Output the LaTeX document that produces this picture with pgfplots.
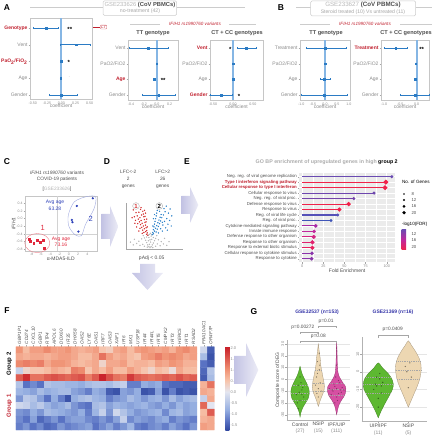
\documentclass[border=0pt]{standalone}
\usepackage{pgfplots}
\pgfplotsset{compat=1.18}
\usepackage{fontspec}
\setmainfont{Liberation Sans}
\newcommand\fs[1]{\fontsize{#1}{#1}\selectfont}
\definecolor{cred}{HTML}{C0202E}
\definecolor{tgray}{HTML}{8A8A8A}
\definecolor{dgray}{HTML}{4D4D4D}
\definecolor{fblue}{HTML}{2B7BC4}
\definecolor{zblue}{HTML}{86B6E4}
\definecolor{vred}{HTML}{D43030}
\definecolor{vblue}{HTML}{2A80C8}
\definecolor{vgray}{HTML}{B8B8B8}
\definecolor{cblue}{HTML}{2B3FB8}
\definecolor{cpink}{HTML}{E0283C}
\definecolor{gtitle}{HTML}{3535A8}
\definecolor{vgreen}{HTML}{5DB831}
\definecolor{vtan}{HTML}{EDD7B2}
\definecolor{vmag}{HTML}{D64FA2}
\definecolor{arrL}{HTML}{C3C3E4}
\definecolor{arrR}{HTML}{ECECF6}
\definecolor{ebg}{HTML}{EBEBEB}
\definecolor{lp1}{HTML}{6A4BB2}
\definecolor{lp4}{HTML}{6E47AE}
\definecolor{lp5}{HTML}{7544AA}
\definecolor{lp8}{HTML}{5550B8}
\definecolor{lp9}{HTML}{3F55B8}
\definecolor{lpR}{HTML}{F0224A}
\definecolor{lp10}{HTML}{A82AA6}
\definecolor{lp11}{HTML}{C0289C}
\definecolor{lp12}{HTML}{D42484}
\definecolor{lp13}{HTML}{E0226E}
\definecolor{lp14}{HTML}{E82260}
\definecolor{lp15}{HTML}{8A34AA}
\tikzset{star/.style={font=\fs{6}\bfseries, yshift=-1.2pt, inner sep=0pt}}
\pgfplotsset{
  /pgf/number format/assume math mode=true,
  colormap={hm}{rgb255(0cm)=(49,72,160); rgb255(4cm)=(90,115,195); rgb255(9cm)=(150,175,225); rgb255(17cm)=(228,230,240); rgb255(22cm)=(247,195,170); rgb255(27cm)=(240,145,115); rgb255(37cm)=(200,30,40)},
  forest/.style={
    scale only axis, anchor=north west, clip=false,
    axis line style={draw=gray!45, line width=0.4pt},
    tick style={draw=gray!70, line width=0.3pt},
    major tick length=1.3pt, tick align=outside,
    xtick pos=left, ytick pos=left,
    xticklabel style={font=\fs{3.6}, text=tgray, inner sep=1pt},
    yticklabel style={font=\fs{5}, text=tgray, inner sep=1pt},
    xlabel={coefficient}, xlabel style={font=\fs{5}, text=tgray, inner sep=0pt, yshift=1pt},
  },
  zero/.style={zblue, line width=2pt},
  ebar/.style={fblue, line width=0.6pt, mark=|, mark size=1pt, mark options={fblue, line width=0.5pt}},
  pts/.style={only marks, mark=square*, mark size=0.9pt, fblue},
  lol/.style={line width=1.1pt, mark=*, mark indices={2}},
  vio/.style={scale only axis, anchor=north west, clip=false,
    axis x line=bottom, axis y line=left, axis line style={draw=gray!60, line width=0.4pt, -},
    ymajorgrids, major grid style={gray!20, line width=0.4pt},
    tick style={draw=gray!70, line width=0.3pt}, major tick length=1.3pt, tick align=outside,
    xticklabel style={align=center, font=\fontsize{5}{6.5}\selectfont, text=dgray, inner sep=1pt},
    yticklabel style={rotate=90, anchor=south, font=\fs{4}, text=tgray, inner sep=1pt}},
}
\begin{document}
\begin{tikzpicture}
\useasboundingbox (0pt,0pt) rectangle (437pt,440pt);

% ---------------- A1
\begin{axis}[forest, at={(30pt,422pt)}, width=62pt, height=81pt,
 xmin=-0.55, xmax=0.54, ymin=0.76, ymax=5.6,
 xtick={-0.5,-0.25,0,0.25,0.5}, xticklabels={-0.50,-0.25,0.00,0.25,0.50},
 ytick={1,2,3,4,5},
 yticklabels={Gender,Age,{\textcolor{cred}{\bfseries PaO\textsubscript{2}/FiO\textsubscript{2}}},Vent,{\textcolor{cred}{\bfseries Genotype}}}]
\addplot[zero] coordinates {(0,0.76) (0,5.6)};
\addplot[ebar] coordinates {(-0.495,5) (-0.05,5)};
\addplot[ebar] coordinates {(-0.01,4) (0.51,4)};
\addplot[ebar] coordinates {(-0.015,3) (0.015,3)};
\addplot[ebar] coordinates {(-0.025,2) (0.005,2)};
\addplot[ebar] coordinates {(-0.22,1) (0.28,1)};
\addplot[pts] coordinates {(-0.264,5) (0.26,4) (0,3) (-0.01,2) (0,1)};
\node[star] at (axis cs:0.15,5) {**};
\node[star] at (axis cs:0.13,3) {*};
\node[font=\fs{5}, text=gray!60] at (axis cs:0.14,2.08) {.};
\end{axis}

% ---------------- A2
\begin{axis}[forest, at={(128pt,400pt)}, width=50pt, height=60pt,
 xmin=-0.447, xmax=0.33, ymin=0.68, ymax=4.51,
 xtick={-0.4,-0.2,0,0.2}, xticklabels={-0.4,-0.2,0.0,0.2},
 ytick={1,2,3,4},
 yticklabels={Gender,{\textcolor{cred}{\bfseries Age}},PaO2/FiO2,Vent}]
\addplot[zero] coordinates {(0,0.68) (0,4.51)};
\addplot[ebar] coordinates {(-0.42,4) (0.18,4)};
\addplot[ebar] coordinates {(-0.01,3) (0.01,3)};
\addplot[ebar] coordinates {(-0.055,2) (-0.025,2)};
\addplot[ebar] coordinates {(-0.22,1) (0.29,1)};
\addplot[pts] coordinates {(-0.13,4) (0,3) (-0.04,2) (0.03,1)};
\node[star] at (axis cs:0.1,2) {**};
\end{axis}

% ---------------- A3
\begin{axis}[forest, at={(210pt,400pt)}, width=53pt, height=60pt,
 xmin=-0.575, xmax=0.75, ymin=0.68, ymax=4.51,
 xtick={-0.5,0,0.5}, xticklabels={-0.50,0.00,0.50},
 ytick={1,2,3,4},
 yticklabels={{\textcolor{cred}{\bfseries Gender}},Age,PaO2/FiO2,{\textcolor{cred}{\bfseries Vent}}}]
\addplot[zero] coordinates {(0,0.68) (0,4.51)};
\addplot[ebar] coordinates {(0.11,4) (0.57,4)};
\addplot[ebar] coordinates {(-0.01,3) (0.01,3)};
\addplot[ebar] coordinates {(-0.01,2) (0.01,2)};
\addplot[ebar] coordinates {(-0.575,1) (-0.01,1)};
\addplot[pts] coordinates {(0.34,4) (0,3) (0,2) (-0.3,1)};
\node[star] at (axis cs:-0.07,4) {*};
\node[star] at (axis cs:0.15,1) {*};
\end{axis}

% ---------------- B1
\begin{axis}[forest, at={(300pt,400pt)}, width=50pt, height=60pt,
 xmin=-1.05, xmax=1.05, ymin=0.68, ymax=4.51,
 xtick={-1,-0.5,0,0.5,1}, xticklabels={-1.0,-0.5,0.0,0.5,1.0},
 ytick={1,2,3,4},
 yticklabels={Gender,Age,PaO2/FiO2,Treatment}]
\addplot[zero] coordinates {(0,0.68) (0,4.51)};
\addplot[ebar] coordinates {(-0.8,4) (0.9,4)};
\addplot[ebar] coordinates {(-0.02,3) (0.02,3)};
\addplot[ebar] coordinates {(-0.2,2) (0.2,2)};
\addplot[ebar] coordinates {(-1.0,1) (0.95,1)};
\addplot[pts] coordinates {(0,4) (0,3) (-0.02,2) (-0.03,1)};
\end{axis}

% ---------------- B2
\begin{axis}[forest, at={(381pt,400pt)}, width=48.3pt, height=60pt,
 xmin=-1.09, xmax=0.385, ymin=0.68, ymax=4.51,
 xtick={-1,-0.5,0}, xticklabels={-1.0,-0.5,0.0},
 ytick={1,2,3,4},
 yticklabels={Gender,Age,PaO2/FiO2,{\textcolor{cred}{\bfseries Treatment}}}]
\addplot[zero] coordinates {(0,0.68) (0,4.51)};
\addplot[ebar] coordinates {(-1.0,4) (-0.3,4)};
\addplot[ebar] coordinates {(-0.05,3) (-0.01,3)};
\addplot[ebar] coordinates {(-0.07,2) (-0.03,2)};
\addplot[ebar] coordinates {(-0.51,1) (0.39,1)};
\addplot[pts] coordinates {(-0.64,4) (-0.03,3) (-0.05,2) (-0.05,1)};
\node[star] at (axis cs:0.15,4) {**};
\end{axis}

% ---------------- C
\begin{axis}[scale only axis, anchor=north west, at={(25pt,244pt)}, width=71.7pt, height=54.7pt,
 xmin=-9.45, xmax=6, ymin=-0.84, ymax=0.59, clip=false,
 axis line style={draw=gray!45, line width=0.4pt}, tick style={draw=gray!70, line width=0.3pt},
 major tick length=1.3pt, tick align=outside, xtick pos=left, ytick pos=left,
 xtick={-8,-6,-4,-2,0,2,4}, ytick={-0.8,-0.6,-0.4,-0.2,0,0.2,0.4},
 yticklabel style={/pgf/number format/.cd, fixed, fixed zerofill, precision=1},
 ticklabel style={font=\fs{3.5}, text=tgray, inner sep=1pt},
 xlabel={α-MDA5-ILD}, ylabel={\itshape IFIH1},
 label style={font=\fs{5}, text=dgray, inner sep=0pt}]
\addplot[gray!35, line width=0.4pt] coordinates {(-2.5,-0.84) (-2.5,0.59)};
\addplot[gray!35, line width=0.4pt] coordinates {(-9.45,-0.4) (6,-0.4)};
\addplot[only marks, mark=square*, mark size=0.8pt, cpink] coordinates {(-8.5,-0.54) (-8.3,-0.59) (-7.6,-0.64) (-6.8,-0.57) (-5.5,-0.56) (-5.3,-0.77) (-6.2,-0.62)};
\addplot[only marks, mark=*, mark size=0.9pt, cblue] coordinates {(5.17,0.53) (1.72,0.33) (0.64,-0.035) (0.77,-0.095) (2.06,-0.34)};
\draw[cpink!60, line width=0.4pt] (axis cs:-6.8,-0.64) ellipse [x radius=2.7, y radius=0.25];
\draw[cblue!45, line width=0.4pt] plot[smooth cycle] coordinates {(axis cs:4.0,0.58) (axis cs:5.8,0.56) (axis cs:5.4,0.25) (axis cs:3.6,-0.15) (axis cs:2.7,-0.45) (axis cs:1.3,-0.42) (axis cs:0.0,-0.2) (axis cs:-0.1,0.1) (axis cs:1.2,0.44)};
\end{axis}

% ---------------- D volcano
\begin{axis}[scale only axis, anchor=north west, at={(126pt,237pt)}, width=57pt, height=46pt,
 xmin=-4.3, xmax=5.9, ymin=0, ymax=10, axis x line=bottom, axis y line=left,
 axis line style={draw=gray!70, line width=0.6pt, -}, xtick=\empty, ytick=\empty, clip=false]
\addplot[only marks, mark=*, mark size=0.45pt, vgray] coordinates {(0,0.3) (-0.2,0.5) (0.2,0.5) (-0.4,0.9) (0.4,0.9) (-0.6,1.4) (0.6,1.3) (-0.8,1.9) (0.8,1.8) (-1.0,2.4) (1.0,2.3) (-1.2,2.9) (1.2,2.9) (-0.1,1.0) (0.1,1.5) (-0.3,1.8) (0.3,2.1) (-0.2,2.5) (0.2,2.8) (-1.5,2.2) (1.5,2.0) (-2.0,1.7) (2.0,1.6) (-2.4,1.2) (2.4,1.1) (-1.8,0.8) (1.8,0.7) (-3.0,0.9) (3.0,0.8) (-0.5,0.4) (0.5,0.3) (-1.3,1.0) (1.3,1.1) (0,2.0) (-0.6,2.6) (0.6,2.5) (-2.8,2.1) (2.6,2.3) (-3.5,1.5) (3.4,1.6) (-1,0.6) (1,0.6) (-0.1,3.2) (0.1,3.4) (-0.3,3.0) (0.3,3.1)};
\addplot[only marks, mark=*, mark size=0.45pt, vred] coordinates {(-0.4,3.0) (-0.5,3.5) (-0.6,4.0) (-0.7,4.6) (-0.8,5.2) (-0.9,5.8) (-1.0,6.4) (-1.1,7.0) (-1.2,7.6) (-1.3,8.2) (-0.6,3.2) (-0.8,3.8) (-1.0,4.4) (-1.2,5.0) (-1.4,5.6) (-1.6,6.2) (-1.8,6.8) (-1.5,7.4) (-2.0,8.0) (-1.7,8.6) (-1.1,3.6) (-1.3,4.1) (-1.5,4.7) (-1.7,5.3) (-1.9,5.9) (-2.1,6.5) (-2.3,7.2) (-2.5,7.9) (-1.4,3.4) (-1.8,4.5) (-2.2,5.5) (-2.6,6.2) (-2.8,7.0) (-3.0,8.5) (-0.7,5.9) (-0.9,7.1) (-1.0,8.4) (-2.4,4.8) (-3.2,6.8) (-2.0,3.9) (-0.5,4.8) (-0.6,6.5) (-0.8,7.8) (-1.6,9.0) (-2.7,5.6)};
\addplot[only marks, mark=*, mark size=0.45pt, vblue] coordinates {(0.4,3.1) (0.5,3.6) (0.6,4.2) (0.7,4.8) (0.8,5.4) (0.9,6.0) (1.0,6.6) (1.1,7.2) (1.2,7.8) (1.3,8.4) (0.6,3.3) (0.8,3.9) (1.0,4.5) (1.2,5.1) (1.4,5.7) (1.6,6.3) (1.8,6.9) (2.0,7.5) (1.4,9.0) (1.1,3.7) (1.3,4.3) (1.5,4.9) (1.7,5.5) (1.9,6.1) (2.1,6.8) (2.4,7.4) (2.7,8.1) (1.5,3.5) (1.9,4.4) (2.3,5.2) (2.6,6.0) (3.0,6.6) (3.3,7.8) (3.6,8.7) (2.2,3.9) (2.8,4.6) (3.2,5.4) (3.5,6.2) (3.8,5.0) (3.1,4.1) (0.5,5.0) (0.6,6.6) (0.8,7.5) (2.5,8.8) (3.9,7.2) (2.9,9.3) (1.7,8.2) (2.2,5.8)};
\end{axis}

% ---------------- E lollipop
\begin{axis}[scale only axis, anchor=north west, at={(299.3pt,267pt)}, width=95.7pt, height=89.3pt,
 xmin=-3.5, xmax=109.8, ymin=0.32, ymax=16.65, y dir=reverse, clip=false,
 axis background/.style={fill=ebg}, axis line style={draw=none},
 xtick={0,25,50,75,100}, minor xtick={12.5,37.5,62.5,87.5},
 ytick={1,2,3,4,5,6,7,8,9,10,11,12,13,14,15,16},
 yticklabels={Neg. reg. of viral genome replication,
  {\textcolor{cred}{\bfseries Type I interferon signaling pathway}},
  {\textcolor{cred}{\bfseries Cellular response to type I interferon}},
  Cellular response to virus, Neg. reg. of viral proc., Defense response to virus,
  Response to virus, Reg. of viral life cycle, Reg. of viral proc.,
  Cytokine-mediated signaling pathway, Innate immune response,
  Defense response to other organism, Response to other organism,
  Response to external biotic stimulus, Cellular response to cytokine stimulus,
  Response to cytokine},
 grid=both, major grid style={white, line width=0.55pt}, minor grid style={white, line width=0.25pt},
 tick style={draw=gray!70, line width=0.3pt}, major tick length=1.3pt, minor tick length=0pt, tick align=outside,
 xtick pos=left, ytick pos=left,
 xticklabel style={font=\fs{3.8}, text=tgray, inner sep=1pt},
 yticklabel style={font=\fs{4.3}, text=dgray, inner sep=1pt},
 xlabel={Fold Enrichment}, xlabel style={font=\fs{5}, text=dgray, inner sep=0pt}]
\addplot[lol, lp1, mark size=0.9pt] coordinates {(0,1) (106,1)};
\addplot[lol, lpR, mark size=1.8pt] coordinates {(0,2) (99,2)};
\addplot[lol, lpR, mark size=1.8pt] coordinates {(0,3) (98,3)};
\addplot[lol, lp4, mark size=0.9pt] coordinates {(0,4) (85,4)};
\addplot[lol, lp5, mark size=0.9pt] coordinates {(0,5) (61,5)};
\addplot[lol, lpR, mark size=1.5pt] coordinates {(0,6) (55,6)};
\addplot[lol, lpR, mark size=1.5pt] coordinates {(0,7) (44,7)};
\addplot[lol, lp8, mark size=0.9pt] coordinates {(0,8) (42,8)};
\addplot[lol, lp9, mark size=0.9pt] coordinates {(0,9) (34,9)};
\addplot[lol, lp10, mark size=1.2pt] coordinates {(0,10) (16,10)};
\addplot[lol, lp11, mark size=1.2pt] coordinates {(0,11) (14,11)};
\addplot[lol, lp12, mark size=1.5pt] coordinates {(0,12) (13.5,12)};
\addplot[lol, lp13, mark size=1.5pt] coordinates {(0,13) (12,13)};
\addplot[lol, lp14, mark size=1.5pt] coordinates {(0,14) (12,14)};
\addplot[lol, lp15, mark size=1.2pt] coordinates {(0,15) (11.5,15)};
\addplot[lol, lp15, mark size=1.2pt] coordinates {(0,16) (11,16)};
\end{axis}

% ---------------- F heatmap
\begin{axis}[scale only axis, anchor=north west, at={(16pt,93.3pt)}, width=198.3pt, height=83.3pt,
 xmin=-0.5, xmax=28, ymin=-0.5, ymax=11.5, y dir=reverse,
 axis line style={draw=none}, ytick=\empty,
 xtick={0,1,2,3,4,5,6,7,8,9,10,11,12,13,14,15,16,17,18,19,20,21,22,23,24,25,26.5,27.5},
 xticklabels={GBP1P1,CD274,CXCL10,GBP1,RTP4,APOL6,DDX60,IFI35,DHX58,OAS2,LY6E,OAS1,IRF7,OAS3,XAF1,IFI6,MX1,USP18,IFI44,IFI44L,IFIT5,CMPK2,IFIT3,HERC5,IFIT1,RSAD2,FRA10AC1,OR4F7P},
 xtick pos=right, xticklabel pos=right, tick align=outside, major tick length=1.5pt,
 tick style={draw=gray!70, line width=0.3pt},
 xticklabel style={rotate=90, anchor=west, font=\fs{4.6}\itshape, text=dgray, inner sep=0.8pt},
 colormap name=hm, point meta min=-1.7, point meta max=2.05,
 colorbar, colorbar style={at={(parent axis.north east)}, anchor=north west, xshift=2.5pt,
   width=4pt, height=83.3pt, scale only axis,
   ytick={-1.5,-1,-0.5,0,0.5,1,1.5,2},
   yticklabel style={font=\fs{4}, text=tgray, inner sep=1pt, /pgf/number format/.cd, fixed, fixed zerofill, precision=1},
   axis line style={draw=none}, major tick length=0pt}]
\addplot[matrix plot*, mesh/cols=26, point meta=explicit] coordinates {
(0,0)[1.0] (1,0)[0.6] (2,0)[0.9] (3,0)[0.9] (4,0)[1.1] (5,0)[0.9] (6,0)[0.9] (7,0)[1.0] (8,0)[0.8] (9,0)[0.7] (10,0)[0.8] (11,0)[0.9] (12,0)[0.5] (13,0)[0.4] (14,0)[0.8] (15,0)[0.9] (16,0)[0.6] (17,0)[0.9] (18,0)[1.0] (19,0)[0.9] (20,0)[0.8] (21,0)[0.9] (22,0)[0.7] (23,0)[1.0] (24,0)[1.1] (25,0)[0.9]
(0,1)[0.8] (1,1)[0.7] (2,1)[0.8] (3,1)[0.8] (4,1)[0.7] (5,1)[0.8] (6,1)[0.9] (7,1)[0.9] (8,1)[0.8] (9,1)[0.6] (10,1)[0.6] (11,1)[0.8] (12,1)[1.3] (13,1)[0.9] (14,1)[0.7] (15,1)[0.8] (16,1)[0.6] (17,1)[0.5] (18,1)[0.9] (19,1)[1.0] (20,1)[1.2] (21,1)[1.0] (22,1)[1.1] (23,1)[1.0] (24,1)[0.8] (25,1)[0.9]
(0,2)[1.1] (1,2)[1.2] (2,2)[1.1] (3,2)[1.2] (4,2)[0.8] (5,2)[1.0] (6,2)[1.0] (7,2)[0.9] (8,2)[0.7] (9,2)[0.6] (10,2)[0.7] (11,2)[0.8] (12,2)[0.3] (13,2)[0.8] (14,2)[0.8] (15,2)[0.9] (16,2)[0.6] (17,2)[0.7] (18,2)[0.7] (19,2)[0.6] (20,2)[0.9] (21,2)[0.8] (22,2)[1.0] (23,2)[0.9] (24,2)[0.7] (25,2)[0.7]
(0,3)[-0.3] (1,3)[0.3] (2,3)[0.5] (3,3)[0.5] (4,3)[0.6] (5,3)[0.8] (6,3)[0.7] (7,3)[0.6] (8,3)[1.2] (9,3)[1.1] (10,3)[0.5] (11,3)[0.8] (12,3)[0.6] (13,3)[0.9] (14,3)[0.6] (15,3)[0.6] (16,3)[0.9] (17,3)[0.7] (18,3)[0.5] (19,3)[0.3] (20,3)[0.6] (21,3)[0.5] (22,3)[0.2] (23,3)[0.8] (24,3)[0.6] (25,3)[0.6]
(0,4)[1.5] (1,4)[1.9] (2,4)[1.3] (3,4)[1.3] (4,4)[1.5] (5,4)[1.6] (6,4)[1.5] (7,4)[1.4] (8,4)[1.5] (9,4)[1.6] (10,4)[1.2] (11,4)[1.5] (12,4)[2.0] (13,4)[1.6] (14,4)[1.3] (15,4)[1.2] (16,4)[1.8] (17,4)[1.5] (18,4)[1.4] (19,4)[1.3] (20,4)[1.4] (21,4)[1.5] (22,4)[1.4] (23,4)[1.6] (24,4)[1.4] (25,4)[1.5]
(0,5)[-0.5] (1,5)[-1.3] (2,5)[-1.1] (3,5)[-1.3] (4,5)[-0.5] (5,5)[-0.6] (6,5)[-0.6] (7,5)[-0.7] (8,5)[-0.7] (9,5)[-0.8] (10,5)[-0.6] (11,5)[-0.5] (12,5)[-0.5] (13,5)[-0.6] (14,5)[-0.4] (15,5)[-0.3] (16,5)[-1.2] (17,5)[-1.2] (18,5)[-0.8] (19,5)[-0.9] (20,5)[-0.8] (21,5)[-1.3] (22,5)[-1.4] (23,5)[-1.4] (24,5)[-1.5] (25,5)[-1.5]
(0,6)[-0.7] (1,6)[-0.8] (2,6)[-0.9] (3,6)[-0.6] (4,6)[-0.8] (5,6)[-0.7] (6,6)[-0.6] (7,6)[-0.6] (8,6)[-0.9] (9,6)[-1.0] (10,6)[-1.2] (11,6)[-0.8] (12,6)[-0.9] (13,6)[-1.5] (14,6)[-1.6] (15,6)[-0.9] (16,6)[-1.0] (17,6)[-0.8] (18,6)[-1.6] (19,6)[-1.5] (20,6)[-0.9] (21,6)[-1.6] (22,6)[-1.2] (23,6)[-1.6] (24,6)[-1.5] (25,6)[-1.6]
(0,7)[-1.0] (1,7)[-0.4] (2,7)[-0.5] (3,7)[-0.9] (4,7)[-1.3] (5,7)[-0.8] (6,7)[-1.2] (7,7)[-1.6] (8,7)[-0.8] (9,7)[-0.6] (10,7)[-0.5] (11,7)[-0.7] (12,7)[-0.8] (13,7)[-1.2] (14,7)[-1.0] (15,7)[-0.9] (16,7)[-0.6] (17,7)[-0.8] (18,7)[-1.0] (19,7)[-0.8] (20,7)[-0.7] (21,7)[-1.0] (22,7)[-0.6] (23,7)[-0.9] (24,7)[-0.7] (25,7)[-0.6]
(0,8)[-0.2] (1,8)[-0.3] (2,8)[-0.6] (3,8)[-0.4] (4,8)[-0.7] (5,8)[-0.9] (6,8)[-0.8] (7,8)[-0.6] (8,8)[-1.0] (9,8)[-1.2] (10,8)[-1.3] (11,8)[-0.6] (12,8)[-0.5] (13,8)[-0.9] (14,8)[-0.7] (15,8)[-0.8] (16,8)[-0.9] (17,8)[-0.8] (18,8)[-0.7] (19,8)[-0.9] (20,8)[-1.0] (21,8)[-0.8] (22,8)[-1.0] (23,8)[-0.7] (24,8)[-0.9] (25,8)[-0.8]
(0,9)[-1.0] (1,9)[-1.1] (2,9)[-0.8] (3,9)[-1.0] (4,9)[-0.6] (5,9)[-0.7] (6,9)[-0.8] (7,9)[-0.9] (8,9)[-1.0] (9,9)[-0.8] (10,9)[-1.2] (11,9)[-0.7] (12,9)[-0.3] (13,9)[-1.0] (14,9)[-0.2] (15,9)[-0.5] (16,9)[-0.8] (17,9)[-1.0] (18,9)[-0.9] (19,9)[-0.8] (20,9)[-0.7] (21,9)[-1.1] (22,9)[-0.7] (23,9)[-0.6] (24,9)[-0.9] (25,9)[-0.8]
(0,10)[-1.1] (1,10)[-1.3] (2,10)[-0.9] (3,10)[-1.4] (4,10)[-1.2] (5,10)[-1.0] (6,10)[-1.3] (7,10)[-1.0] (8,10)[-0.9] (9,10)[-0.9] (10,10)[-1.1] (11,10)[-1.2] (12,10)[-1.0] (13,10)[-1.2] (14,10)[-0.9] (15,10)[-0.3] (16,10)[-1.1] (17,10)[-0.9] (18,10)[-1.0] (19,10)[-1.1] (20,10)[-0.9] (21,10)[-0.8] (22,10)[-1.2] (23,10)[-1.0] (24,10)[-1.1] (25,10)[-1.2]
(0,11)[-1.2] (1,11)[-1.0] (2,11)[-1.3] (3,11)[-1.1] (4,11)[-1.4] (5,11)[-1.3] (6,11)[-1.0] (7,11)[-1.2] (8,11)[-1.1] (9,11)[-1.0] (10,11)[-0.9] (11,11)[-1.3] (12,11)[-1.1] (13,11)[-0.9] (14,11)[-1.2] (15,11)[-1.0] (16,11)[-0.7] (17,11)[-1.2] (18,11)[-1.3] (19,11)[-1.1] (20,11)[-1.0] (21,11)[-1.2] (22,11)[-0.9] (23,11)[-1.1] (24,11)[-1.3] (25,11)[-1.0]
};
\addplot[matrix plot*, mesh/cols=2, point meta=explicit] coordinates {
(26.5,0)[-0.2] (27.5,0)[-1.5]
(26.5,1)[-0.6] (27.5,1)[-1.6]
(26.5,2)[-1.3] (27.5,2)[-1.5]
(26.5,3)[-1.4] (27.5,3)[-0.5]
(26.5,4)[-1.5] (27.5,4)[-0.6]
(26.5,5)[0.7] (27.5,5)[1.3]
(26.5,6)[0.8] (27.5,6)[0.7]
(26.5,7)[-0.3] (27.5,7)[0.8]
(26.5,8)[1.4] (27.5,8)[0.0]
(26.5,9)[0.6] (27.5,9)[1.5]
(26.5,10)[0.7] (27.5,10)[0.8]
(26.5,11)[0.9] (27.5,11)[0.8]
};
\end{axis}

% ---------------- G1 violins
\begin{axis}[vio, at={(286.7pt,100pt)}, width=63.3pt, height=80pt,
 xmin=0.27, xmax=3.73, ymin=-34.5, ymax=33.3,
 ytick={-30,-20,-10,0,10,20,30}, xtick={1,2,3},
 xticklabels={{Control\\\textcolor{tgray}{(27)}},{NSIP\\\textcolor{tgray}{(15)}},{IPF/UIP\\\textcolor{tgray}{(111)}}},
 ylabel={Composite score of DEG}, ylabel style={font=\fs{5}, text=dgray, inner sep=0pt}]
\addplot[fill=vgreen, draw=vgreen!70!black, line width=0.3pt, smooth] coordinates {(1,-32) (0.95,-28) (0.85,-24) (0.70,-20) (0.55,-16) (0.50,-12) (0.52,-8) (0.62,-4) (0.75,0) (0.87,4) (0.95,8) (1,11) (1.05,8) (1.13,4) (1.25,0) (1.38,-4) (1.48,-8) (1.50,-12) (1.45,-16) (1.30,-20) (1.15,-24) (1.05,-28)} -- cycle;
\addplot[fill=vtan, draw=vtan!70!black, line width=0.3pt, smooth] coordinates {(2,-23) (1.9,-18) (1.8,-14) (1.7,-10) (1.67,-6) (1.7,-2) (1.75,2) (1.8,6) (1.85,10) (1.88,14) (1.9,18) (1.94,22) (1.97,26) (2,30) (2.03,26) (2.06,22) (2.1,18) (2.12,14) (2.15,10) (2.2,6) (2.25,2) (2.3,-2) (2.33,-6) (2.3,-10) (2.2,-14) (2.1,-18)} -- cycle;
\addplot[fill=vmag, draw=vmag!70!black, line width=0.3pt, smooth] coordinates {(3,-30) (2.95,-26) (2.88,-22) (2.75,-18) (2.58,-14) (2.5,-10) (2.52,-6) (2.7,-2) (2.85,2) (2.93,6) (2.95,10) (2.97,16) (2.98,24) (3,31) (3.02,24) (3.03,16) (3.05,10) (3.07,6) (3.15,2) (3.3,-2) (3.48,-6) (3.5,-10) (3.42,-14) (3.25,-18) (3.12,-22) (3.05,-26)} -- cycle;
\addplot[black!35, line width=0.25pt, dash pattern=on 1pt off 0.8pt] coordinates {(0.63,-18) (1.37,-18)};
\addplot[black!35, line width=0.25pt, dash pattern=on 1pt off 0.8pt] coordinates {(0.5,-12) (1.5,-12)};
\addplot[black!35, line width=0.25pt, dash pattern=on 1pt off 0.8pt] coordinates {(0.59,-5) (1.41,-5)};
\addplot[black!35, line width=0.25pt, dash pattern=on 1pt off 0.8pt] coordinates {(1.7,-10) (2.3,-10)};
\addplot[black!35, line width=0.25pt, dash pattern=on 1pt off 0.8pt] coordinates {(1.69,-3) (2.31,-3)};
\addplot[black!35, line width=0.25pt, dash pattern=on 1pt off 0.8pt] coordinates {(1.83,8) (2.17,8)};
\addplot[black!35, line width=0.25pt, dash pattern=on 1pt off 0.8pt] coordinates {(2.56,-13) (3.44,-13)};
\addplot[black!35, line width=0.25pt, dash pattern=on 1pt off 0.8pt] coordinates {(2.51,-8) (3.49,-8)};
\addplot[black!35, line width=0.25pt, dash pattern=on 1pt off 0.8pt] coordinates {(2.65,-3) (3.35,-3)};
\addplot[only marks, mark=*, mark size=0.35pt, vgreen!60!black] coordinates {(0.9,-5) (1.1,-9) (0.8,-13) (1.2,-15) (1.0,-18) (0.95,-11) (1.05,-3) (0.85,-20) (1.15,-7) (1.0,2) (0.9,-25) (1.1,-13)};
\addplot[only marks, mark=*, mark size=0.35pt, vtan!55!black] coordinates {(2.05,22) (1.95,15) (2.05,8) (1.9,2) (2.1,-3) (2.0,-8) (1.85,-5) (2.15,-10) (2.0,-15) (1.95,5) (2.08,12) (1.92,-12)};
\addplot[only marks, mark=*, mark size=0.35pt, vmag!65!black] coordinates {(3.0,-8) (2.8,-10) (3.2,-9) (2.9,-6) (3.1,-12) (2.7,-13) (3.3,-7) (3.0,-15) (2.85,-4) (3.15,-3) (3.05,-18) (2.95,2) (3.0,12) (3.0,24) (2.75,-9) (3.25,-11) (2.9,-20) (3.1,-1) (2.6,-8) (3.4,-9)};
\draw[gray!70, line width=0.35pt] (axis cs:1,38.6) -- (axis cs:1,40.3) -- (axis cs:2,40.3) -- (axis cs:2,38.6);
\node[font=\fs{4.8}, text=dgray] at (axis cs:1.15,44.2) {p=0.00272};
\draw[gray!70, line width=0.35pt] (axis cs:2,43.5) -- (axis cs:2,45.2) -- (axis cs:3,45.2) -- (axis cs:3,43.5);
\node[font=\fs{4.8}, text=dgray] at (axis cs:2.42,49) {p=0.01};
\draw[gray!70, line width=0.35pt] (axis cs:1,30.8) -- (axis cs:1,32.5) -- (axis cs:3,32.5) -- (axis cs:3,30.8);
\node[font=\fs{4.8}, text=dgray] at (axis cs:2.0,36.2) {p=0.08};
\end{axis}

% ---------------- G2 violins
\begin{axis}[vio, at={(361.7pt,103.3pt)}, width=65pt, height=85pt,
 xmin=0.45, xmax=2.61, ymin=-28.2, ymax=19.8,
 ytick={-20,-10,0,10}, xtick={1,2},
 xticklabels={{UIP/IPF\\\textcolor{tgray}{(11)}},{NSIP\\\textcolor{tgray}{(5)}}}]
\addplot[fill=vgreen, draw=vgreen!70!black, line width=0.3pt, smooth] coordinates {(1,-26) (0.9,-22) (0.78,-18) (0.65,-14) (0.53,-10) (0.5,-7) (0.55,-4) (0.67,-1) (0.85,2) (1,5) (1.15,2) (1.33,-1) (1.45,-4) (1.5,-7) (1.47,-10) (1.35,-14) (1.22,-18) (1.1,-22)} -- cycle;
\addplot[fill=vtan, draw=vtan!70!black, line width=0.3pt, smooth] coordinates {(2,-20) (1.9,-16) (1.8,-12) (1.7,-8) (1.62,-4) (1.58,0) (1.58,4) (1.65,8) (1.78,12) (1.9,15) (2,17.5) (2.1,15) (2.22,12) (2.35,8) (2.42,4) (2.42,0) (2.38,-4) (2.3,-8) (2.2,-12) (2.1,-16)} -- cycle;
\addplot[black!35, line width=0.25pt, dash pattern=on 1pt off 0.8pt] coordinates {(0.6,-12) (1.4,-12)};
\addplot[black!35, line width=0.25pt, dash pattern=on 1pt off 0.8pt] coordinates {(0.5,-7) (1.5,-7)};
\addplot[black!35, line width=0.25pt, dash pattern=on 1pt off 0.8pt] coordinates {(0.6,-3) (1.4,-3)};
\addplot[black!35, line width=0.25pt, dash pattern=on 1pt off 0.8pt] coordinates {(1.62,-4) (2.38,-4)};
\addplot[black!35, line width=0.25pt, dash pattern=on 1pt off 0.8pt] coordinates {(1.58,1) (2.42,1)};
\addplot[black!35, line width=0.25pt, dash pattern=on 1pt off 0.8pt] coordinates {(1.6,6) (2.4,6)};
\addplot[only marks, mark=*, mark size=0.4pt, vgreen!55!black] coordinates {(1.05,-4) (0.95,-8) (1.1,-12) (1.0,-20) (0.9,-7) (1.15,-6) (0.85,-10) (1.0,-15) (1.05,-1) (0.95,-3) (1.1,-8)};
\addplot[only marks, mark=*, mark size=0.4pt, vtan!55!black] coordinates {(2.05,5) (1.95,0) (2.1,-3) (2.0,-9) (1.9,3)};
\draw[gray!70, line width=0.35pt] (axis cs:1,19) -- (axis cs:1,20.7) -- (axis cs:2,20.7) -- (axis cs:2,19);
\node[font=\fs{4.8}, text=dgray] at (axis cs:1.48,23.8) {p=0.0409};
\end{axis}

% E colour legend bar (outside flipped scope)
\shade[top color=lp1, bottom color=lpR, middle color=lp11] (401.5pt,190pt) rectangle (406pt,210.7pt);

% ---------------- annotations (pixel coordinates, y down)
\begin{scope}[x=1pt, y=-1pt, shift={(0pt,440pt)}]
% arrows
\shade[left color=arrL, right color=arrR] (101.7,214)--(110,214)--(110,206)--(118.3,226.5)--(110,247)--(110,239)--(101.7,239)--cycle;
\shade[left color=arrL, right color=arrR] (181.7,196)--(190,196)--(190,187)--(198.3,205)--(190,223)--(190,214)--(181.7,214)--cycle;
\shade[left color=arrL, right color=arrR] (140,264)--(155,264)--(155,273)--(163,273)--(147.5,290)--(132,273)--(140,273)--cycle;
\shade[left color=arrL, right color=arrR] (234,356)--(246,356)--(246,343)--(258.3,370)--(246,397)--(246,384)--(234,384)--cycle;
% panel letters
\foreach \l/\px/\py in {A/7/8, B/281/8, C/7/162, D/107/162, E/187/162, F/7/311, G/254/312}
  \node[font=\fs{8.5}\bfseries] at (\px,\py) {\l};
% A header
\draw[gray!40, line width=0.8pt] (30,7) -- (103,7) (176.7,7) -- (245,7);
\draw[gray!40, rounded corners=1.5pt, fill=white, line width=0.5pt] (103,0.8) rectangle (176.7,15.5);
\node[font=\fs{5.8}] at (140,5) {\textcolor{gray!55}{GSE233626} \textcolor{dgray}{\bfseries (CoV PBMCs)}};
\node[font=\fs{5.2}, text=gray!70] at (140,11.6) {no-treatment (42)};
\draw[gray!40, line width=0.8pt] (130,24) -- (160,24) (229,24) -- (256,24);
\node[font=\fs{4.6}\itshape, text=cred] at (195,24) {IFIH1 rs1990760 variants};
\draw[cred, line width=0.5pt] (93,27) -- (100,27);
\node[draw=cred!60, rounded corners=1pt, inner sep=0.6pt, font=\fs{4}\itshape, text=cred, anchor=west] at (100,27) {CT};
\node[font=\fs{5.6}\bfseries, text=dgray] at (153,33) {TT genotype};
\node[font=\fs{5.6}\bfseries, text=dgray] at (237,33) {CT + CC genotypes};
% B header
\draw[gray!40, line width=0.8pt] (296,7) -- (310.7,7) (415.7,7) -- (432,7);
\draw[gray!40, rounded corners=1.5pt, fill=white, line width=0.5pt] (310.7,0.8) rectangle (415.7,16);
\node[font=\fs{6.2}] at (363,5.2) {\textcolor{gray!55}{GSE233627} \textcolor{dgray}{\bfseries (CoV PBMCs)}};
\node[font=\fs{5.1}, text=gray!70] at (363,12) {Steroid treated (10) Vs untreated (11)};
\draw[gray!40, line width=0.8pt] (300,24) -- (330,24) (400,24) -- (432,24);
\node[font=\fs{4.6}\itshape, text=cred] at (365,24) {IFIH1 rs1990760 variants};
\node[font=\fs{5.6}\bfseries, text=dgray] at (326,33) {TT genotype};
\node[font=\fs{5.6}\bfseries, text=dgray] at (406,33) {CT + CC genotypes};
% C texts
\node[font=\fs{4.8}, text=dgray] at (57,172.5) {\textit{IFIH1 rs1990760} variants};
\node[font=\fs{4.8}, text=dgray] at (57,179.5) {COVID-19 patients};
\node[font=\fs{4.8}, text=dgray] at (57,189) {[\textcolor{gray!60}{GSE233626}]};
\node[font=\fs{5}, text=cblue] at (55,202.5) {Avg age};
\node[font=\fs{5}, text=cblue] at (55,208.7) {63.28};
\node[font=\fs{7.5}, text=cblue] at (90.7,219) {2};
\node[font=\fs{7.5}, text=cpink] at (42.7,227.7) {1};
\node[font=\fs{5}, text=cpink] at (61,238.8) {Avg age};
\node[font=\fs{5}, text=cpink] at (61,245) {73.16};
% D texts
\node[font=\fs{4.8}, text=dgray] at (128.3,172) {LFC<-2};
\node[font=\fs{4.8}, text=dgray] at (128.3,179) {2};
\node[font=\fs{4.8}, text=dgray] at (128.3,186.5) {genes};
\node[font=\fs{4.8}, text=dgray] at (162.7,172) {LFC>2};
\node[font=\fs{4.8}, text=dgray] at (162.7,179) {26};
\node[font=\fs{4.8}, text=dgray] at (162.7,186.5) {genes};
\node[circle, draw=gray!60, fill=white, inner sep=0.5pt, font=\fs{6}\bfseries, text=vred] at (136,206) {1};
\node[circle, draw=gray!60, fill=white, inner sep=0.5pt, font=\fs{6}\bfseries, text=black] at (159.3,206) {2};
\node[font=\fs{5}, text=dgray] at (151.7,258) {pAdj < 0.05};
% E texts
\node[font=\fs{5.3}\bfseries, text=gray!65] at (326.7,162) {GO BP enrichment of upregulated genes in high \textcolor{black}{group 2}};
\node[anchor=west, font=\fs{4.6}, text=black] at (398.5,181.7) {No. of Genes};
\fill (404,194) circle[radius=0.9pt];
\fill (404,200) circle[radius=1.2pt];
\fill (404,206.3) circle[radius=1.5pt];
\fill (404,212.7) circle[radius=1.8pt];
\foreach \v/\py in {8/194,12/200,16/206.3,20/212.7}
  \node[anchor=west, font=\fs{4.3}, text=dgray] at (408,\py) {\v};
\node[anchor=west, font=\fs{4.6}, text=black] at (398.5,224.3) {-log10(FDR)};
\foreach \v/\py in {12/234,16/240.3,20/246.7}
  \node[anchor=west, font=\fs{4.3}, text=dgray] at (408,\py) {\v};
% F group labels
\node[rotate=90, font=\fs{6}\bfseries, text=black] at (9.3,364) {Group 2};
\node[rotate=90, font=\fs{6}\bfseries, text=cred] at (9.3,406) {Group 1};
% G titles
\node[font=\fs{5}\bfseries, text=gtitle] at (317,312.7) {GSE32537 (n=153)};
\node[font=\fs{5}\bfseries, text=gtitle] at (393,312.7) {GSE21369 (n=16)};
\end{scope}
\end{tikzpicture}
\end{document}
